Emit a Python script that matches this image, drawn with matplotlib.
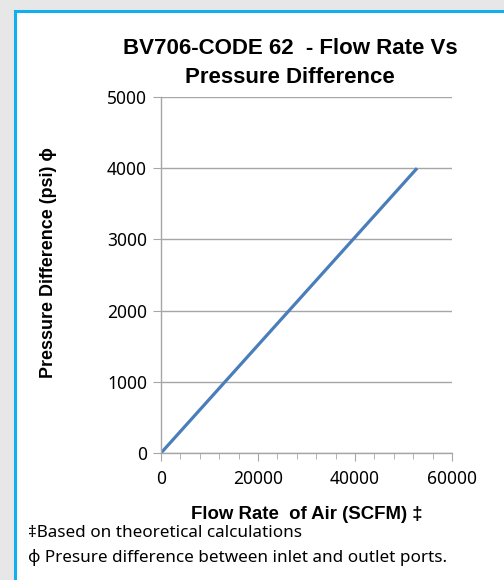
import matplotlib
matplotlib.use("Agg")
import matplotlib.pyplot as plt
from matplotlib.patches import Rectangle
from matplotlib.ticker import MultipleLocator

plt.rcParams['font.family'] = ['Noto Sans', 'DejaVu Sans']
BOLD = ['Liberation Sans', 'DejaVu Sans']

# flow rate of air (SCFM) vs pressure difference (psi)
flow_rate = [0, 52800]
pressure = [0, 4000]

title = "BV706-CODE 62  - Flow Rate Vs\nPressure Difference"
xlabel = "Flow Rate  of Air (SCFM) \u2021"
ylabel = "Pressure Difference (psi) \u03d5"
notes = ["\u2021Based on theoretical calculations",
         "\u03d5 Presure difference between inlet and outlet ports."]

fig = plt.figure(figsize=(5.04, 5.80), dpi=100, facecolor="#e7e7e7")
fig.patches.append(Rectangle((15 / 504, -0.1), 1.2, 1.1 - 11 / 580,
                             transform=fig.transFigure, facecolor="white",
                             edgecolor="#0fb0ee", linewidth=2.2, zorder=-10))

ax = fig.add_axes([161 / 504, 1 - 453 / 580, 291 / 504, 356 / 580])
ax.patch.set_alpha(0)
ax.plot(flow_rate, pressure, color="#4a7ebb", linewidth=2.3, solid_capstyle="butt")

ax.set_xlim(0, 60000)
ax.set_ylim(0, 5000)
ax.xaxis.set_major_locator(MultipleLocator(20000))
ax.xaxis.set_minor_locator(MultipleLocator(4000))
ax.yaxis.set_major_locator(MultipleLocator(1000))
ax.grid(axis="y", color="#a6a6a6", linewidth=1.0)
ax.set_axisbelow(True)
for s in ("top", "right"):
    ax.spines[s].set_visible(False)
for s in ("left", "bottom"):
    ax.spines[s].set_color("#a6a6a6")
    ax.spines[s].set_linewidth(1.0)
ax.tick_params(axis="both", which="major", color="#a6a6a6", length=6,
               labelsize=12.5, pad=4)
ax.tick_params(axis="x", which="minor", color="#a6a6a6", length=4)
ax.tick_params(axis="x", which="major", pad=6)

ax.set_xlabel(xlabel, fontsize=13.4, fontweight="bold", family=BOLD, labelpad=13)
ax.set_ylabel(ylabel, fontsize=12.9, fontweight="bold", family=BOLD, va="center")
ax.yaxis.set_label_coords(-0.388, 0.534)

fig.text(290 / 504, 1 - 63 / 580, title, ha="center", va="center",
         fontsize=16, fontweight="bold", family=BOLD, linespacing=1.5)
fig.text(28 / 504, 1 - 533 / 580, notes[0], ha="left", va="center", fontsize=12.3)
fig.text(28 / 504, 1 - 557 / 580, notes[1], ha="left", va="center", fontsize=12.3)

fig.savefig("out.png", dpi=100, facecolor=fig.get_facecolor())
